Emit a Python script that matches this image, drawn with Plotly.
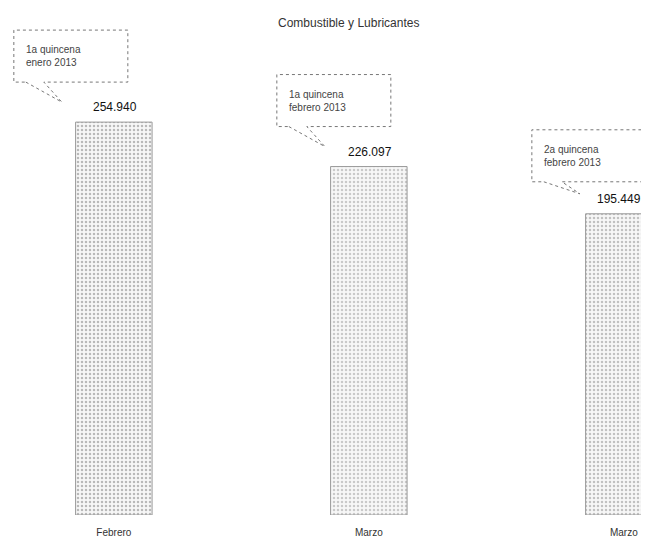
import plotly.graph_objects as go

categories = ["Febrero", "Marzo", "Marzo"]
values = [254.940, 226.097, 195.449]
value_labels = ["254.940", "226.097", "195.449"]
callouts = ["1a quincena<br>enero 2013", "1a quincena<br>febrero 2013", "2a quincena<br>febrero 2013"]
positions = list(range(len(categories)))

# callout box geometry (pixel offsets relative to each bar top): left, right, bottom, top
box_geom = [(-100, 14, 40, 92), (-92, 22, 40, 92), (-92, 30, 32, 84)]
label_xshift = [1, 1, -5]

FONT = "Liberation Sans, Arial, sans-serif"

fig = go.Figure()
fig.add_trace(go.Bar(
    x=positions, y=values, width=0.30,
    marker=dict(
        color="#f3f3f3",
        pattern=dict(shape=".", fgcolor=["#7a7a7a", "#9a9a9a", "#8a8a8a"], bgcolor="#f7f7f7", size=4, solidity=0.3),
        line=dict(color="#9a9a9a", width=1),
    ),
    hoverinfo="skip",
))

shapes = []
annotations = []
for i, (v, lab, txt, g, xs) in enumerate(zip(values, value_labels, callouts, box_geom, label_xshift)):
    L, R, B, T = g
    a, b = L + 12, L + 30
    tip = (L + 48, 20)
    path = (f"M {a},{B} L {tip[0]},{tip[1]} L {b},{B} L {R},{B} L {R},{T} "
            f"L {L},{T} L {L},{B} Z")
    shapes.append(dict(
        type="path", xref="x", yref="y", xsizemode="pixel", ysizemode="pixel",
        xanchor=i, yanchor=v, path=path,
        line=dict(color="#777", width=1, dash="dot"), fillcolor="white", layer="above",
    ))
    annotations.append(dict(
        x=i, y=v, xref="x", yref="y", text=txt, showarrow=False,
        xanchor="left", yanchor="middle", align="left",
        xshift=L + 10, yshift=(B + T) / 2,
        font=dict(family=FONT, size=10, color="#444"),
    ))
    annotations.append(dict(
        x=i, y=v, xref="x", yref="y", text=lab, showarrow=False,
        xanchor="center", yanchor="bottom", xshift=xs, yshift=6,
        font=dict(family=FONT, size=12, color="#111"),
    ))

fig.update_layout(
    width=649, height=543,
    margin=dict(l=0, r=0, t=20, b=36),
    paper_bgcolor="white", plot_bgcolor="white",
    showlegend=False,
    title=dict(text="Combustible y Lubricantes", x=0.525, xanchor="center",
               y=0.972, yanchor="middle", yref="container",
               font=dict(family=FONT, size=12, color="#333")),
    xaxis=dict(range=[-0.415, 2.130], tickvals=positions, ticktext=categories,
               showgrid=False, zeroline=False, showline=False, ticks="",
               ticklabelstandoff=10,
               tickfont=dict(family=FONT, size=10, color="#333")),
    yaxis=dict(range=[0, 316], visible=False, showgrid=False, zeroline=False),
    shapes=shapes, annotations=annotations,
)

fig.write_html("out.html")
